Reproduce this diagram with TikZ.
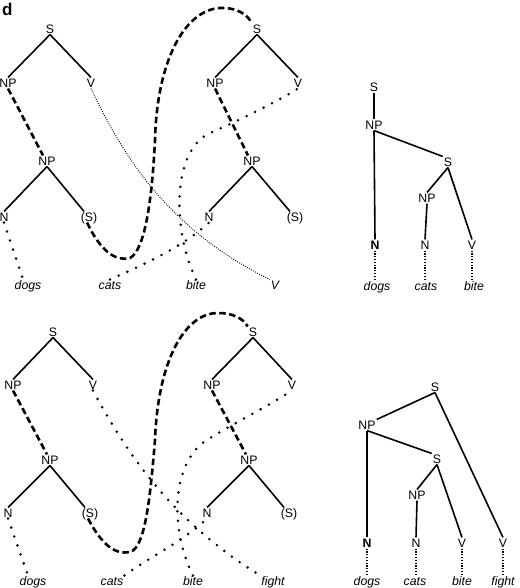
\documentclass[tikz,border=0pt]{standalone}
\usepackage{fontspec}
\setmainfont{Liberation Sans}
\begin{document}
\begin{tikzpicture}[x=1pt,y=-1pt,
 lab/.style={inner sep=1pt, font=\fontsize{12.3}{14}\selectfont, text height=8.7pt, text depth=0pt},
 wd/.style={lab, font=\fontsize{12.3}{14}\selectfont\itshape},
 tree/.style={line width=1.6pt},
 dsh/.style={line width=2.6pt, dash pattern=on 6.5pt off 3.5pt},
 dots/.style={line width=2.8pt, line cap=round, dash pattern=on 0pt off 9.5pt},
 fine/.style={line width=0.9pt, dash pattern=on 0.9pt off 1.4pt},
 vdots/.style={line width=1.3pt, dash pattern=on 1.2pt off 1.6pt}]
\useasboundingbox (0,0) rectangle (519,588);
\node[font=\fontsize{17}{17}\selectfont\bfseries, inner sep=0, anchor=north west] (lbl) at (2,3) {d};

% ---------- top panel, left tree ----------
\node[lab] (S1) at (50,29) {S};
\node[lab] (NP1) at (8,83) {NP};
\node[lab] (V1) at (91,83) {V};
\node[lab] (NPb1) at (47,161) {NP};
\node[lab] (N1) at (4,217) {N};
\node[lab] (Sb1) at (89,217) {(S)};
% right tree
\node[lab] (S2) at (257,29) {S};
\node[lab] (NP2) at (215,83) {NP};
\node[lab] (V2) at (298,83) {V};
\node[lab] (NPb2) at (252,161) {NP};
\node[lab] (N2) at (209,217) {N};
\node[lab] (Sb2) at (295,217) {(S)};
% words
\node[wd] (w1) at (28,285) {dogs};
\node[wd] (w2) at (110,285) {cats};
\node[wd] (w3) at (196,285) {bite};
\node[wd] (w4) at (275,285) {V};

\draw[tree] (S1.south) -- (NP1.north) (S1.south) -- (V1.north)
  (NPb1.south) -- (N1.north) (NPb1.south) -- ([xshift=-5pt]Sb1.north);
\draw[tree] (S2.south) -- (NP2.north) (S2.south) -- (V2.north)
  (NPb2.south) -- (N2.north) (NPb2.south) -- ([xshift=-5pt]Sb2.north);
\draw[dsh] (NP1.south) -- ([xshift=-4pt]NPb1.north);
\draw[dsh] (NP2.south) -- ([xshift=-4pt]NPb2.north);
\draw[dots] (N1.south) -- ([xshift=-5pt]w1.north);
\draw[dsh] ([xshift=-2pt]Sb1.south) .. controls (100,250) and (115,262) .. (130,258)
  .. controls (145,250) and (152,200) .. (155,140)
  .. controls (157,60) and (185,10) .. (220,8)
  .. controls (235,7) and (248,14) .. (S2.north west);
\draw[dots] (w2.north) .. controls (150,262) and (185,245) .. (N2.south);
\draw[dots] (w3.north) .. controls (172,230) and (172,150) .. (210,133)
  .. controls (240,120) and (280,100) .. (V2.south);
\draw[fine] (V1.south) .. controls (125,160) and (170,230) .. (w4.north west);

% ---------- top panel, result tree ----------
\node[lab] (R1S) at (374,87) {S};
\node[lab] (R1NP) at (374,125) {NP};
\node[lab] (R1S2) at (448,162) {S};
\node[lab] (R1NP3) at (427,198) {NP};
\node[lab] (R1N1) at (375,245) {\textbf{N}};
\node[lab] (R1N2) at (425,245) {N};
\node[lab] (R1V) at (472,245) {V};
\node[wd] (R1w1) at (377,286) {dogs};
\node[wd] (R1w2) at (426,286) {cats};
\node[wd] (R1w3) at (474,286) {bite};
\draw[tree] (R1S.south) -- (R1NP.north);
\draw[tree] (R1NP.south) -- (R1N1.north);
\draw[tree] (R1NP.south) -- (R1S2.north west);
\draw[tree] (R1S2.south) -- (R1NP3.north);
\draw[tree] (R1S2.south) -- (R1V.north);
\draw[tree] (R1NP3.south) -- (R1N2.north);
\draw[vdots] (R1N1.south) -- (R1N1.south |- R1w1.north);
\draw[vdots] (R1N2.south) -- (R1N2.south |- R1w2.north);
\draw[vdots] (R1V.south) -- (R1V.south |- R1w3.north);

% ---------- bottom panel, left tree ----------
\node[lab] (S3) at (53,332) {S};
\node[lab] (NP3) at (13,385) {NP};
\node[lab] (V3) at (93,385) {V};
\node[lab] (NPb3) at (50,460) {NP};
\node[lab] (N3) at (8,513) {N};
\node[lab] (Sb3) at (90,513) {(S)};
% right tree
\node[lab] (S4) at (253,332) {S};
\node[lab] (NP4) at (212,385) {NP};
\node[lab] (V4) at (292,385) {V};
\node[lab] (NPb4) at (249,460) {NP};
\node[lab] (N4) at (207,513) {N};
\node[lab] (Sb4) at (289,513) {(S)};
% words
\node[wd] (w5) at (33,581) {dogs};
\node[wd] (w6) at (112,581) {cats};
\node[wd] (w7) at (193,581) {bite};
\node[wd] (w8) at (273,581) {fight};

\draw[tree] (S3.south) -- (NP3.north) (S3.south) -- (V3.north)
  (NPb3.south) -- (N3.north) (NPb3.south) -- ([xshift=-5pt]Sb3.north);
\draw[tree] (S4.south) -- (NP4.north) (S4.south) -- (V4.north)
  (NPb4.south) -- (N4.north) (NPb4.south) -- ([xshift=-5pt]Sb4.north);
\draw[dsh] (NP3.south) -- ([xshift=-3pt]NPb3.north);
\draw[dsh] (NP4.south) -- ([xshift=-3pt]NPb4.north);
\draw[dots] (N3.south) -- ([xshift=-5pt]w5.north);
\draw[dsh] ([xshift=-2pt]Sb3.south) .. controls (102,545) and (115,555) .. (130,552)
  .. controls (145,548) and (150,500) .. (155,440)
  .. controls (158,360) and (185,313) .. (218,313)
  .. controls (232,313) and (243,318) .. (S4.north west);
\draw[dots] (V3.south) .. controls (125,450) and (170,520) .. (w8.north west);
\draw[dots] (w6.north east) .. controls (150,557) and (185,540) .. (N4.south);
\draw[dots] (w7.north) .. controls (170,530) and (170,460) .. (210,438)
  .. controls (240,420) and (270,405) .. (V4.south);

% ---------- bottom panel, result tree ----------
\node[lab] (R2S) at (435,387) {S};
\node[lab] (R2NP) at (367,425) {NP};
\node[lab] (R2S2) at (437,459) {S};
\node[lab] (R2NP3) at (417,495) {NP};
\node[lab] (R2N1) at (367,543) {\textbf{N}};
\node[lab] (R2N2) at (416,543) {N};
\node[lab] (R2V1) at (462,543) {V};
\node[lab] (R2V2) at (503,543) {V};
\node[wd] (R2w1) at (367,581) {dogs};
\node[wd] (R2w2) at (415,581) {cats};
\node[wd] (R2w3) at (462,581) {bite};
\node[wd] (R2w4) at (503,581) {fight};
\draw[tree] (R2S.south) -- (R2NP.north east);
\draw[tree] (R2S.south) -- (R2V2.north);
\draw[tree] (R2NP.south) -- (R2N1.north);
\draw[tree] (R2NP.south) -- (R2S2.north west);
\draw[tree] (R2S2.south) -- (R2NP3.north);
\draw[tree] (R2S2.south) -- (R2V1.north);
\draw[tree] (R2NP3.south) -- (R2N2.north);
\draw[vdots] (R2N1.south) -- (R2N1.south |- R2w1.north);
\draw[vdots] (R2N2.south) -- (R2N2.south |- R2w2.north);
\draw[vdots] (R2V1.south) -- (R2V1.south |- R2w3.north);
\draw[vdots] (R2V2.south) -- (R2V2.south |- R2w4.north);
\end{tikzpicture}
\end{document}
